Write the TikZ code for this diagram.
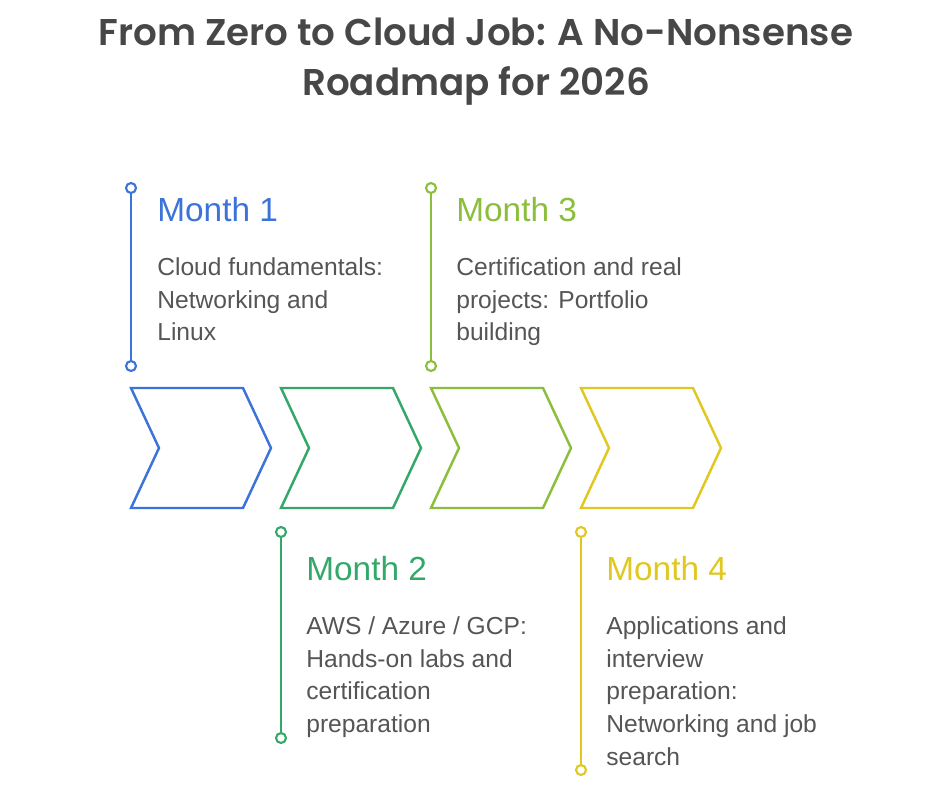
\documentclass[tikz,border=0pt]{standalone}
\usepackage{fontspec}
\setmainfont{Liberation Sans}
\newfontfamily\titlefont{Poppins}[UprightFont=* SemiBold]
\usepackage{tikz}
\usetikzlibrary{shapes,positioning}
\definecolor{rmblue}{RGB}{59,115,217}
\definecolor{rmgreen}{RGB}{52,168,104}
\definecolor{rmolive}{RGB}{139,190,60}
\definecolor{rmyellow}{RGB}{224,200,32}
\definecolor{rmtext}{RGB}{85,85,85}
\definecolor{rmtitle}{RGB}{71,71,71}
\tikzstyle{chevron} = [signal, signal from=west, signal to=east, signal pointer angle=130, minimum width=2.8cm, minimum height=2.4cm, inner sep=0pt, line width=1.4pt, draw]
\tikzstyle{pin} = [circle, minimum size=0.2cm, inner sep=0pt, line width=1.2pt, fill=white, draw]
\tikzstyle{rail} = [line width=1.4pt]
\tikzstyle{monthhead} = [anchor=west, inner sep=0pt, font=\fontsize{19}{22}\selectfont]
\tikzstyle{monthbody} = [anchor=north west, inner sep=0pt, align=left, text=rmtext, font=\fontsize{14}{18.7}\selectfont]

\begin{document}
\begin{tikzpicture}[x=0.02cm, y=-0.02cm]
\useasboundingbox (0,0) rectangle (940,788);

% Title
\node[align=center, text=rmtitle, font=\titlefont\fontsize{21.2}{28.4}\selectfont] (title) at (476,62) {From Zero to Cloud Job: A No-Nonsense\\Roadmap for 2026};

% Chevrons
\node[chevron, draw=rmblue] (c1) at (201,448) {};
\node[chevron, draw=rmgreen] (c2) at (351,448) {};
\node[chevron, draw=rmolive] (c3) at (501,448) {};
\node[chevron, draw=rmyellow] (c4) at (651,448) {};

% Month 1
\node[pin, draw=rmblue] (m1top) at (131,188) {};
\node[pin, draw=rmblue] (m1bot) at (131,366) {};
\draw[rail, rmblue] (m1top) -- (m1bot);
\node[monthhead, text=rmblue] (m1) at (157,210) {Month 1};
\node[monthbody] (m1text) at (157,257) {Cloud fundamentals:\\Networking and\\Linux};

% Month 3
\node[pin, draw=rmolive] (m3top) at (431,188) {};
\node[pin, draw=rmolive] (m3bot) at (431,366) {};
\draw[rail, rmolive] (m3top) -- (m3bot);
\node[monthhead, text=rmolive] (m3) at (456,210) {Month 3};
\node[monthbody] (m3text) at (456,257) {Certification and real\\projects: Portfolio\\building};

% Month 2
\node[pin, draw=rmgreen] (m2top) at (281,532) {};
\node[pin, draw=rmgreen] (m2bot) at (281,738) {};
\draw[rail, rmgreen] (m2top) -- (m2bot);
\node[monthhead, text=rmgreen] (m2) at (306,569) {Month 2};
\node[monthbody] (m2text) at (306,616) {AWS / Azure / GCP:\\Hands-on labs and\\certification\\preparation};

% Month 4
\node[pin, draw=rmyellow] (m4top) at (581,532) {};
\node[pin, draw=rmyellow] (m4bot) at (581,770) {};
\draw[rail, rmyellow] (m4top) -- (m4bot);
\node[monthhead, text=rmyellow] (m4) at (606,569) {Month 4};
\node[monthbody] (m4text) at (606,616) {Applications and\\interview\\preparation:\\Networking and job\\search};
\end{tikzpicture}
\end{document}
